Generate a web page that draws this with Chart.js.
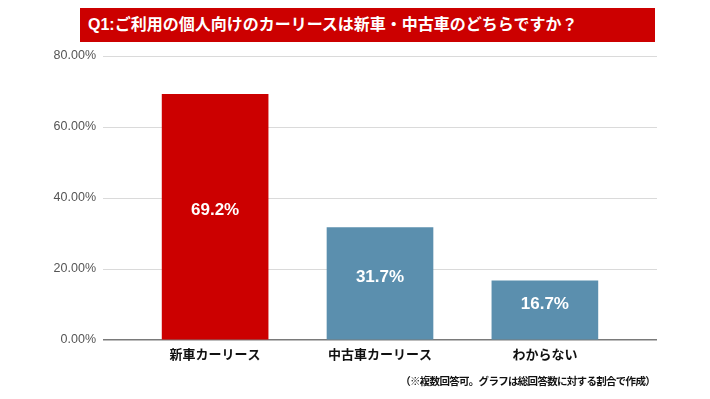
<!DOCTYPE html>
<html>
<head>
<meta charset="utf-8">
<script src="https://cdn.jsdelivr.net/npm/chart.js@4/dist/chart.umd.min.js"></script>
<style>
  html, body { margin: 0; padding: 0; background: #fff; }
  #wrap { position: relative; width: 710px; height: 399px; }
  #title {
    position: absolute; left: 80px; top: 8px; width: 575px; height: 34px;
    background: #cc0000; color: #fff; font: bold 16px "Liberation Sans", "Noto Sans CJK JP", sans-serif;
    line-height: 34px; padding-left: 8px; box-sizing: border-box; white-space: nowrap;
  }
  #note {
    position: absolute; right: 55px; top: 373px; color: #111; letter-spacing: -0.7px;
    font: bold 10.5px "Liberation Sans", "Noto Sans CJK JP", sans-serif; white-space: nowrap;
  }
  canvas { position: absolute; left: 0; top: 0; }
</style>
</head>
<body>
<div id="wrap">
  <canvas id="chart" width="710" height="399"></canvas>
  <div id="title">Q1:ご利用の個人向けのカーリースは新車・中古車のどちらですか？</div>
  <div id="note">（※複数回答可。グラフは総回答数に対する割合で作成）</div>
</div>
<script>
const categories = ['新車カーリース', '中古車カーリース', 'わからない'];
const values = [69.2, 31.7, 16.7];
const barColors = ['#cc0000', '#5b8fae', '#5b8fae'];
const yTicks = [0, 20, 40, 60, 80];

const FONT = '"Liberation Sans", Arial, "Noto Sans CJK JP", sans-serif';

// 値ラベル（棒の中央に白字）
const valueLabels = {
  id: 'valueLabels',
  afterDatasetsDraw(chart) {
    const ctx = chart.ctx;
    const meta = chart.getDatasetMeta(0);
    ctx.save();
    ctx.fillStyle = '#fff';
    ctx.font = 'bold 17px ' + FONT;
    ctx.textAlign = 'center';
    ctx.textBaseline = 'middle';
    meta.data.forEach((bar, i) => {
      const mid = (bar.y + bar.base) / 2 - 6;
      ctx.fillText(values[i].toFixed(1) + '%', bar.x, mid);
    });
    ctx.restore();
  }
};

new Chart(document.getElementById('chart'), {
  type: 'bar',
  data: {
    datasets: [{
      data: values.map((v, i) => ({ x: i + 1, y: v })),
      backgroundColor: barColors,
      borderWidth: 0,
      barThickness: 106,
    }],
  },
  options: {
    responsive: false,
    animation: false,
    layout: { padding: { top: 56, right: 53, bottom: 29, left: 0 } },
    scales: {
      x: {
        type: 'linear',
        offset: false,
        min: 0.32,
        max: 3.68,
        afterBuildTicks: (s) => { s.ticks = categories.map((c, i) => ({ value: i + 1 })); },
        afterFit: (s) => { s.height = 30; },
        grid: { display: false, drawTicks: false, offset: false },
        border: { display: false },
        ticks: {
          padding: 8,
          color: '#111',
          font: { family: FONT, size: 13, weight: 'bold' },
          callback: (v) => categories[v - 1] || '',
        },
      },
      y: {
        min: 0,
        max: 80,
        afterBuildTicks: (s) => { s.ticks = yTicks.map(v => ({ value: v })); },
        afterFit: (s) => { s.width = 103; },
        grid: {
          drawTicks: false,
          color: (c) => c.tick.value === 0 ? '#7a7a7a' : '#dadada',
          lineWidth: (c) => c.tick.value === 0 ? 1.5 : 1,
        },
        border: { display: false },
        ticks: {
          padding: 7,
          color: '#555',
          font: { family: FONT, size: 12.5 },
          callback: (v) => v.toFixed(2) + '%',
        },
      },
    },
    plugins: {
      legend: { display: false },
      tooltip: { enabled: false },
    },
  },
  plugins: [valueLabels],
});
</script>
</body>
</html>
